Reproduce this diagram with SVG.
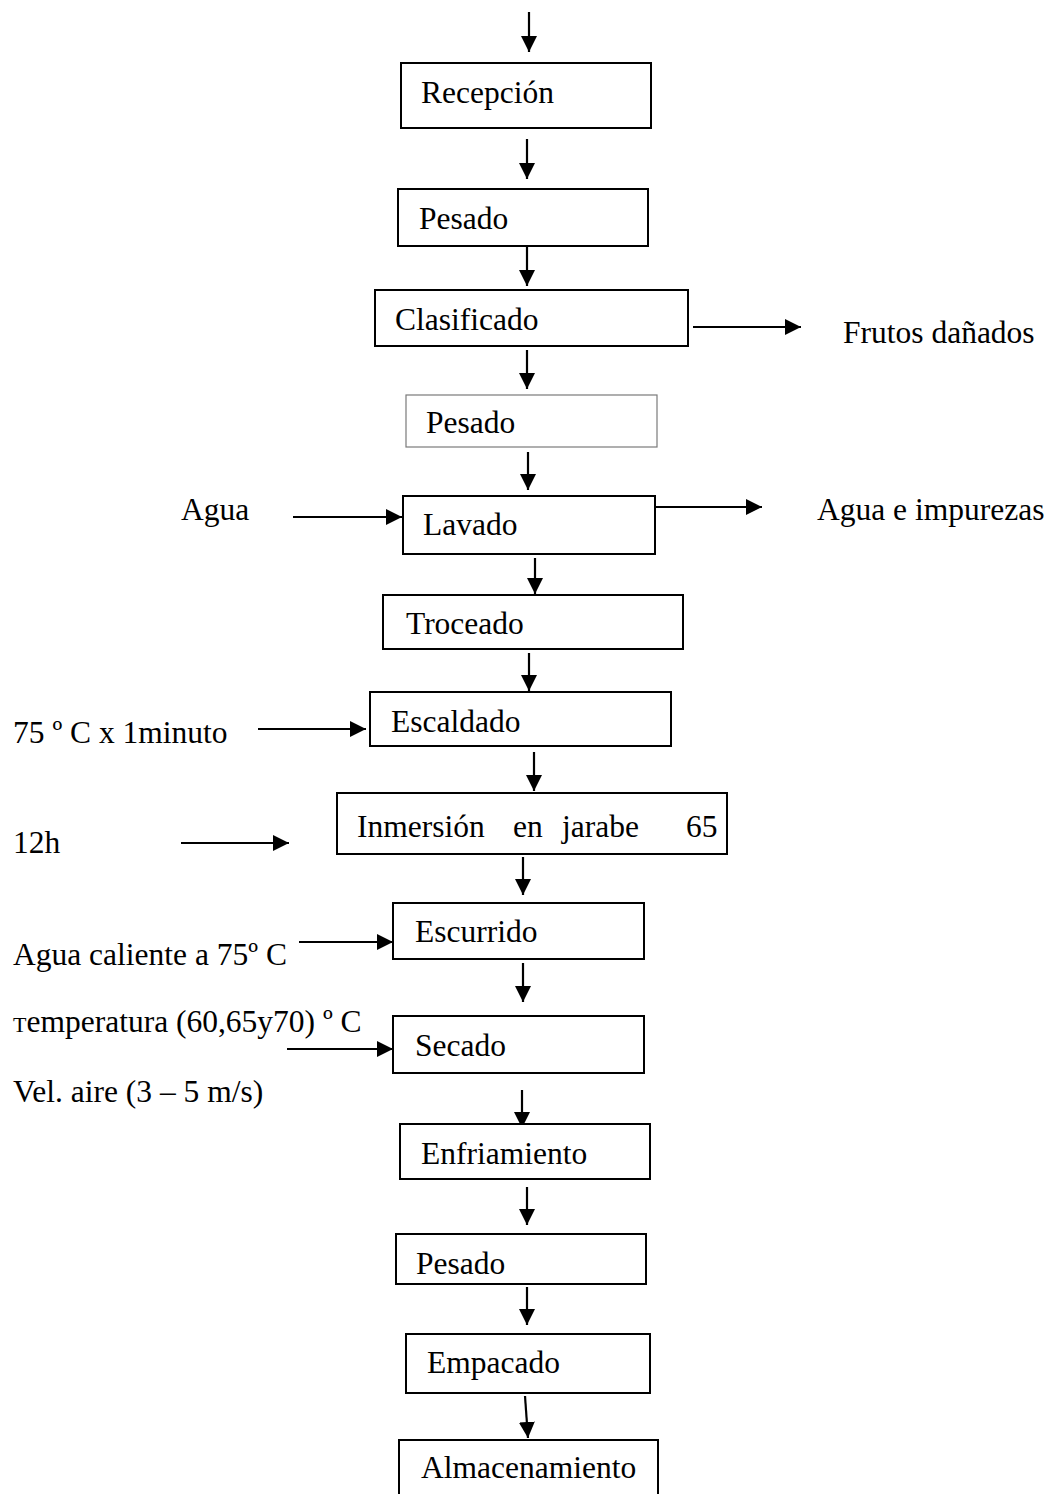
<svg xmlns="http://www.w3.org/2000/svg" width="1047" height="1494" viewBox="0 0 1047 1494">
<style>
  .box { fill: #ffffff; stroke: #000000; stroke-width: 2; }
  .thin { stroke: #7a7a7a; stroke-width: 1.2; }
  .lbl { font-family: "Liberation Serif", "Times New Roman", serif; font-size: 31.5px; fill: #000000; }
  .arr { stroke: #000000; stroke-width: 2.2; fill: none; marker-end: url(#ah); }
</style>
<defs>
  <marker id="ah" viewBox="0 0 16 16" markerWidth="16" markerHeight="16" refX="16" refY="8" orient="auto" markerUnits="userSpaceOnUse">
    <path d="M0,0 L16,8 L0,16 Z" fill="#000000"/>
  </marker>
</defs>
<rect width="1047" height="1494" fill="#ffffff"/>

<g id="connectors">
  <line class="arr" x1="529" y1="12" x2="529" y2="52"/>
  <line class="arr" x1="527" y1="139" x2="527" y2="179"/>
  <line class="arr" x1="527" y1="246" x2="527" y2="286"/>
  <line class="arr" x1="527" y1="350" x2="527" y2="389"/>
  <line class="arr" x1="528" y1="452" x2="528" y2="490"/>
  <line class="arr" x1="535" y1="558" x2="535" y2="594"/>
  <line class="arr" x1="529" y1="653" x2="529" y2="691"/>
  <line class="arr" x1="534" y1="752" x2="534" y2="791"/>
  <line class="arr" x1="523" y1="857" x2="523" y2="895"/>
  <line class="arr" x1="523" y1="963" x2="523" y2="1002"/>
  <line class="arr" x1="522" y1="1090" x2="522" y2="1128"/>
  <line class="arr" x1="527" y1="1187" x2="527" y2="1225"/>
  <line class="arr" x1="527" y1="1287" x2="527" y2="1325"/>
  <line class="arr" x1="525" y1="1396" x2="528" y2="1438"/>
  <line class="arr" x1="693" y1="327" x2="801" y2="327"/>
  <line class="arr" x1="293" y1="517" x2="402" y2="517"/>
  <line class="arr" x1="655" y1="507" x2="762" y2="507"/>
  <line class="arr" x1="258" y1="729" x2="366" y2="729"/>
  <line class="arr" x1="181" y1="843" x2="289" y2="843"/>
  <line class="arr" x1="299" y1="942" x2="393" y2="942"/>
  <line class="arr" x1="287" y1="1049" x2="393" y2="1049"/>
</g>

<g id="n-recepcion">
  <rect class="box" x="401" y="63" width="250" height="65"/>
  <text class="lbl" x="421" y="103">Recepción</text>
</g>
<g id="n-pesado1">
  <rect class="box" x="398" y="189" width="250" height="57"/>
  <text class="lbl" x="419" y="229">Pesado</text>
</g>
<g id="n-clasificado">
  <rect class="box" x="375" y="290" width="313" height="56"/>
  <text class="lbl" x="395" y="330">Clasificado</text>
</g>
<g id="n-frutos">
  <text class="lbl" x="843" y="343">Frutos dañados</text>
</g>
<g id="n-pesado2">
  <rect class="box thin" x="406" y="395" width="251" height="52"/>
  <text class="lbl" x="426" y="433">Pesado</text>
</g>
<g id="n-agua">
  <text class="lbl" x="181" y="520">Agua</text>
</g>
<g id="n-lavado">
  <rect class="box" x="403" y="496" width="252" height="58"/>
  <text class="lbl" x="423" y="535">Lavado</text>
</g>
<g id="n-agua-impurezas">
  <text class="lbl" x="817" y="520">Agua e impurezas</text>
</g>
<g id="n-troceado">
  <rect class="box" x="383" y="595" width="300" height="54"/>
  <text class="lbl" x="406" y="634">Troceado</text>
</g>
<g id="n-escaldado-cond">
  <text class="lbl" x="13" y="743">75 º C x 1minuto</text>
</g>
<g id="n-escaldado">
  <rect class="box" x="370" y="692" width="301" height="54"/>
  <text class="lbl" x="391" y="732">Escaldado</text>
</g>
<g id="n-12h">
  <text class="lbl" x="13" y="853">12h</text>
</g>
<g id="n-inmersion">
  <rect class="box" x="337" y="793" width="390" height="61"/>
  <text class="lbl" y="837"><tspan x="357">Inmersión</tspan><tspan x="513">en</tspan><tspan x="562">jarabe</tspan><tspan x="686">65</tspan></text>
</g>
<g id="n-agua-caliente">
  <text class="lbl" x="13" y="965">Agua caliente a 75º C</text>
</g>
<g id="n-escurrido">
  <rect class="box" x="393" y="903" width="251" height="56"/>
  <text class="lbl" x="415" y="942">Escurrido</text>
</g>
<g id="n-temperatura">
  <text class="lbl" x="13" y="1032"><tspan font-size="22px">T</tspan>emperatura (60,65y70) º C</text>
</g>
<g id="n-secado">
  <rect class="box" x="393" y="1016" width="251" height="57"/>
  <text class="lbl" x="415" y="1056">Secado</text>
</g>
<g id="n-vel-aire">
  <text class="lbl" x="13" y="1102">Vel. aire (3 – 5 m/s)</text>
</g>
<g id="n-enfriamiento">
  <rect class="box" x="400" y="1124" width="250" height="55"/>
  <text class="lbl" x="421" y="1164">Enfriamiento</text>
</g>
<g id="n-pesado3">
  <rect class="box" x="396" y="1234" width="250" height="50"/>
  <text class="lbl" x="416" y="1274">Pesado</text>
</g>
<g id="n-empacado">
  <rect class="box" x="406" y="1334" width="244" height="59"/>
  <text class="lbl" x="427" y="1373">Empacado</text>
</g>
<g id="n-almacenamiento">
  <rect class="box" x="399" y="1440" width="259" height="62"/>
  <text class="lbl" x="421" y="1478">Almacenamiento</text>
</g>
</svg>
